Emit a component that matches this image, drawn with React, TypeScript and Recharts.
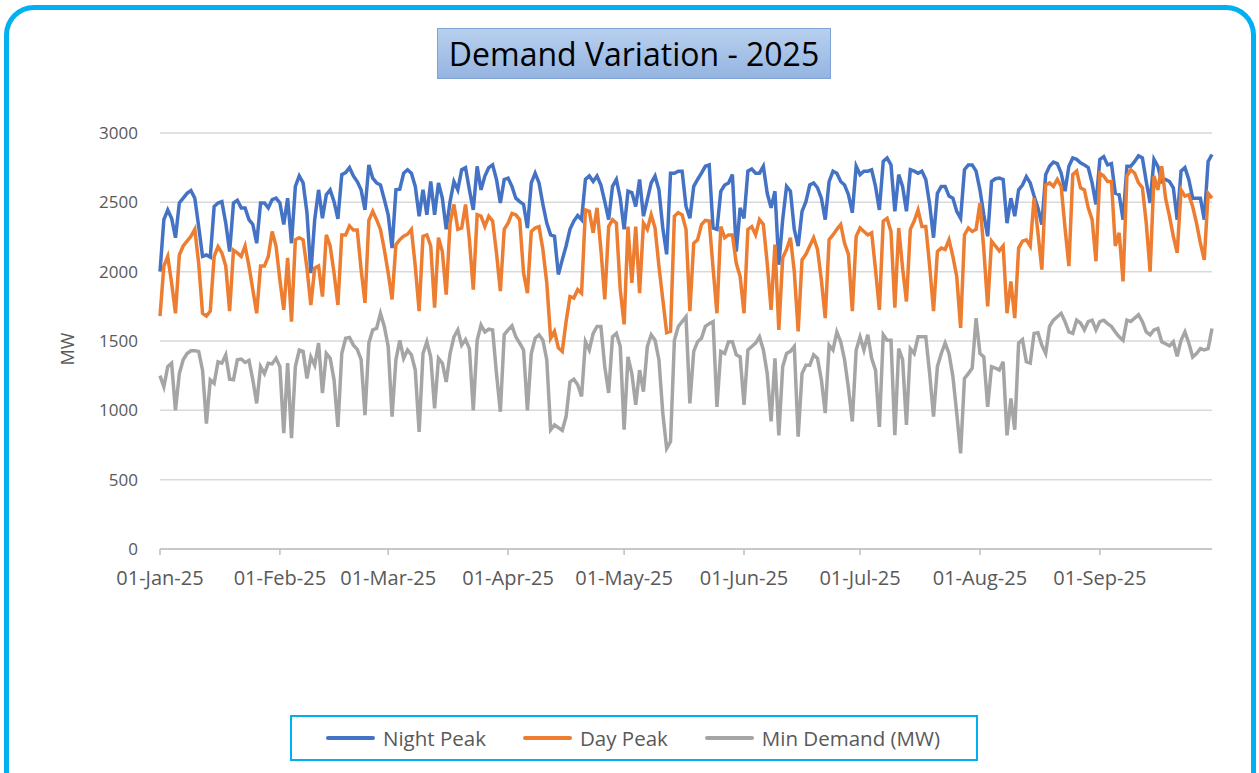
import { LineChart, Line, XAxis, YAxis, CartesianGrid, Legend } from 'recharts';

// daily values, 01-Jan-25 .. 30-Sep-25 (273 days)
const nightPeak = [
  2000, 2375, 2445, 2385, 2245, 2495, 2530, 2565, 2585, 2530, 2325, 2110, 2120, 2105, 2470, 2495, 2505, 2350, 2145, 2495, 2515, 2460, 2460, 2375, 2340, 2205, 2495,
  2495, 2460, 2520, 2530, 2495, 2340, 2530, 2205, 2615, 2690, 2640, 2425, 1990, 2375, 2590, 2385, 2555, 2590, 2505, 2380, 2700, 2715, 2750, 2690, 2650, 2590, 2445, 2770,
  2675, 2640, 2625, 2520, 2410, 2170, 2590, 2595, 2710, 2735, 2710, 2615, 2400, 2590, 2410, 2650, 2410, 2640, 2530, 2305, 2505, 2650, 2590, 2735, 2750, 2590, 2445,
  2760, 2590, 2690, 2750, 2770, 2665, 2495, 2665, 2675, 2615, 2530, 2505, 2485, 2315, 2640, 2710, 2640, 2485, 2350, 2265, 2255, 1980, 2085, 2185, 2305, 2365, 2405,
  2375, 2665, 2690, 2650, 2690, 2625, 2505, 2375, 2615, 2665, 2530, 2305, 2580, 2570, 2470, 2665, 2400, 2520, 2640, 2690, 2590, 2315, 2125, 2710, 2710, 2725, 2725,
  2470, 2385, 2615, 2665, 2710, 2760, 2770, 2315, 2305, 2580, 2625, 2640, 2700, 2145, 2460, 2385, 2725, 2740, 2710, 2710, 2760, 2565, 2460, 2580, 2050, 2375, 2615, 2580,
  2305, 2185, 2435, 2505, 2625, 2640, 2605, 2530, 2375, 2650, 2725, 2710, 2650, 2625, 2555, 2425, 2760, 2700, 2725, 2725, 2735, 2615, 2445, 2795, 2820, 2770, 2435,
  2700, 2615, 2435, 2735, 2725, 2710, 2725, 2665, 2485, 2245, 2565, 2615, 2615, 2545, 2530, 2435, 2385, 2735, 2770, 2770, 2725, 2590, 2410, 2255, 2650, 2670, 2675,
  2665, 2350, 2530, 2400, 2590, 2625, 2685, 2640, 2545, 2460, 2340, 2700, 2760, 2790, 2780, 2710, 2580, 2760, 2820, 2810, 2785, 2770, 2750, 2640, 2485, 2810, 2830,
  2770, 2780, 2565, 2555, 2375, 2760, 2760, 2795, 2835, 2820, 2650, 2495, 2810, 2760, 2650, 2665, 2650, 2605, 2375, 2725, 2750, 2665, 2530, 2530, 2530, 2375, 2795, 2845,
];

const dayPeak = [
  1680, 2040, 2110, 1920, 1700, 2120, 2185, 2220, 2255, 2305, 2060, 1700, 1680, 1715, 2110, 2180, 2135, 2040, 1715, 2155, 2135, 2110, 2185, 2040, 1870, 1700, 2040,
  2040, 2110, 2290, 2185, 1940, 1725, 2100, 1640, 2230, 2245, 2230, 2025, 1760, 2025, 2040, 1820, 2265, 2185, 1990, 1760, 2265, 2265, 2330, 2300, 2300, 2015, 1775, 2370,
  2435, 2375, 2305, 2160, 1990, 1800, 2195, 2230, 2255, 2270, 2305, 2040, 1715, 2255, 2265, 2185, 1740, 2245, 2145, 1835, 2350, 2485, 2305, 2315, 2485, 2230, 1870,
  2410, 2400, 2325, 2400, 2365, 2135, 1860, 2305, 2350, 2420, 2410, 2375, 1990, 1845, 2290, 2315, 2325, 2160, 1920, 1520, 1570, 1450, 1425, 1640, 1820, 1810, 1870,
  1845, 2445, 2435, 2280, 2460, 2160, 1800, 2325, 2375, 2350, 1870, 1620, 2325, 1920, 2325, 1845, 2350, 2305, 2410, 2315, 2040, 1800, 1560, 1570, 2400, 2425, 2410,
  2305, 1715, 2205, 2230, 2340, 2370, 2365, 2025, 1700, 2325, 2245, 2265, 2265, 2060, 1965, 1700, 2305, 2325, 2265, 2375, 2340, 2060, 1725, 2195, 1580, 2100, 2160, 2245,
  2000, 1570, 2085, 2125, 2185, 2245, 2160, 1940, 1665, 2230, 2265, 2305, 2340, 2205, 2125, 1715, 2255, 2315, 2290, 2265, 2280, 2015, 1725, 2365, 2385, 2290, 1740,
  2315, 2025, 1785, 2305, 2365, 2445, 2325, 2325, 2040, 1715, 2145, 2170, 2160, 2230, 2110, 1965, 1595, 2265, 2315, 2290, 2305, 2495, 2160, 1750, 2220, 2185, 2150,
  2185, 1700, 1930, 1665, 2170, 2220, 2230, 2185, 2530, 2280, 2015, 2625, 2640, 2615, 2665, 2615, 2315, 2040, 2700, 2725, 2605, 2590, 2460, 2375, 2075, 2710, 2690,
  2650, 2650, 2185, 2280, 1930, 2690, 2735, 2710, 2640, 2605, 2350, 2000, 2690, 2590, 2760, 2530, 2400, 2255, 2135, 2590, 2545, 2555, 2470, 2350, 2205, 2085, 2565, 2530,
];

const minDemand = [
  1250, 1170, 1315, 1340, 1000, 1265, 1365, 1410, 1430, 1430, 1425, 1290, 905, 1220, 1195, 1350, 1340, 1400, 1225, 1220, 1365, 1370, 1345, 1360, 1220, 1050, 1315,
  1265, 1340, 1335, 1375, 1315, 835, 1340, 800, 1315, 1435, 1425, 1230, 1385, 1325, 1485, 1125, 1410, 1375, 1220, 880, 1410, 1520, 1525, 1470, 1440, 1365, 965, 1485,
  1580, 1590, 1700, 1605, 1460, 955, 1365, 1505, 1375, 1435, 1400, 1290, 845, 1410, 1495, 1385, 1015, 1375, 1340, 1205, 1410, 1530, 1580, 1470, 1510, 1445, 1000,
  1505, 1615, 1565, 1585, 1580, 1265, 990, 1545, 1580, 1610, 1530, 1485, 1435, 1000, 1410, 1520, 1545, 1505, 1365, 860, 895, 875, 855, 955, 1205, 1225, 1185,
  1100, 1495, 1435, 1555, 1605, 1605, 1315, 1125, 1530, 1555, 1460, 860, 1385, 1265, 1040, 1290, 1135, 1460, 1545, 1505, 1365, 980, 725, 775, 1505, 1605, 1640,
  1675, 1050, 1425, 1495, 1520, 1605, 1625, 1640, 1025, 1425, 1410, 1495, 1495, 1400, 1385, 1040, 1435, 1460, 1485, 1530, 1435, 1265, 920, 1375, 820, 1315, 1410, 1425,
  1460, 810, 1265, 1325, 1325, 1400, 1375, 1220, 980, 1470, 1435, 1565, 1495, 1365, 1160, 920, 1435, 1530, 1435, 1545, 1375, 1290, 880, 1545, 1505, 1505, 820,
  1445, 1365, 895, 1445, 1410, 1530, 1530, 1530, 1265, 955, 1315, 1410, 1485, 1410, 1245, 980, 690, 1230, 1265, 1305, 1665, 1410, 1385, 1025, 1315, 1305, 1290,
  1350, 820, 1085, 860, 1485, 1510, 1350, 1340, 1555, 1560, 1470, 1410, 1605, 1650, 1675, 1700, 1640, 1565, 1555, 1650, 1630, 1580, 1640, 1650, 1580, 1640, 1650,
  1625, 1605, 1565, 1530, 1505, 1650, 1640, 1665, 1690, 1640, 1565, 1545, 1580, 1590, 1495, 1480, 1465, 1495, 1390, 1505, 1565, 1485, 1385, 1410, 1445, 1435, 1445, 1590,
];

// day index of each month start, and its label
const monthStarts = [0, 31, 59, 90, 120, 151, 181, 212, 243];
const monthLabels = ['01-Jan-25', '01-Feb-25', '01-Mar-25', '01-Apr-25', '01-May-25', '01-Jun-25', '01-Jul-25', '01-Aug-25', '01-Sep-25'];
const yTicks = [0, 500, 1000, 1500, 2000, 2500, 3000];

const series = [
  { key: 'night', name: 'Night Peak', color: '#4472C4' },
  { key: 'dayp', name: 'Day Peak', color: '#ED7D31' },
  { key: 'min', name: 'Min Demand (MW)', color: '#A5A5A5' },
];

const data = nightPeak.map((v, i) => ({
  day: i,
  night: v,
  dayp: dayPeak[i],
  min: minDemand[i],
}));

const FONT = '"Open Sans", "DejaVu Sans", sans-serif';

function LegendBox() {
  return (
    <div
      style={{
        width: 688,
        height: 46,
        boxSizing: 'border-box',
        border: '2.5px solid #00B0F0',
        display: 'flex',
        alignItems: 'center',
        paddingLeft: 34,
        fontFamily: FONT,
        fontSize: 20.5,
        color: '#595959',
        background: '#fff',
        whiteSpace: 'nowrap',
      }}
    >
      {series.map((s, i) => (
        <div
          key={s.key}
          style={{ display: 'flex', alignItems: 'center', flexShrink: 0, marginRight: i < series.length - 1 ? 37 : 0 }}
        >
          <div style={{ width: 49, height: 3.5, background: s.color, borderRadius: 2, marginRight: 8 }} />
          <span>{s.name}</span>
        </div>
      ))}
    </div>
  );
}

export default function App() {
  return (
    <div style={{ position: 'absolute', left: 0, top: 0, width: 1259, height: 773, overflow: 'hidden', background: '#fff' }}>
      <div
        style={{
          position: 'absolute',
          left: 4,
          top: 5,
          width: 1252,
          height: 810,
          boxSizing: 'border-box',
          border: '5px solid #00B0F0',
          borderRadius: 30,
        }}
      />
      <div
        style={{
          position: 'absolute',
          left: 437,
          top: 28,
          width: 394,
          height: 51,
          boxSizing: 'border-box',
          background: 'linear-gradient(#B8D0EE, #94B4E0)',
          border: '1px solid #7FA3D6',
          display: 'flex',
          alignItems: 'center',
          justifyContent: 'center',
          fontFamily: FONT,
          fontSize: 32,
          color: '#000',
        }}
      >
        Demand Variation - 2025
      </div>
      <div
        style={{
          position: 'absolute',
          left: 67,
          top: 349,
          transform: 'translate(-50%, -50%) rotate(-90deg)',
          fontFamily: FONT,
          fontSize: 18,
          color: '#595959',
        }}
      >
        MW
      </div>
      <div style={{ position: 'absolute', left: 0, top: 0 }}>
        <LineChart width={1259} height={773} data={data} margin={{ top: 133, right: 47, left: 100, bottom: 148 }}>
          <CartesianGrid vertical={false} stroke="#D9D9D9" strokeWidth={1.5} />
          <XAxis
            dataKey="day"
            type="number"
            domain={[0, 272]}
            ticks={monthStarts}
            tickFormatter={(v: number) => monthLabels[monthStarts.indexOf(v)]}
            stroke="#BFBFBF"
            strokeWidth={1.5}
            tickSize={6}
            tickMargin={16}
            height={30}
            tick={{ fill: '#595959', fontSize: 20, fontFamily: FONT }}
            interval={0}
          />
          <YAxis
            domain={[0, 3000]}
            ticks={yTicks}
            axisLine={false}
            tickLine={false}
            width={60}
            tickMargin={16}
            tick={{ fill: '#595959', fontSize: 17, fontFamily: FONT }}
          />
          {series.map((s) => (
            <Line
              key={s.key}
              type="linear"
              dataKey={s.key}
              name={s.name}
              stroke={s.color}
              strokeWidth={3.5}
              dot={false}
              isAnimationActive={false}
            />
          ))}
          <Legend content={() => <LegendBox />} wrapperStyle={{ position: 'absolute', left: 290, top: 715, width: 688 }} />
        </LineChart>
      </div>
    </div>
  );
}
